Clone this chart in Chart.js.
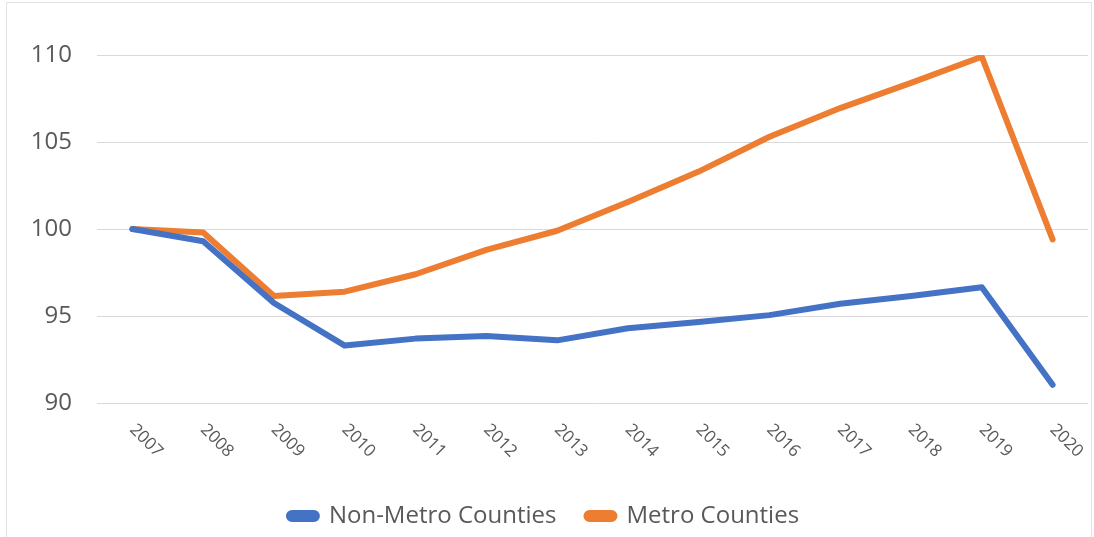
<!DOCTYPE html>
<html lang="en">
  <head>
    <meta charset="UTF-8" />
    <title>Metro vs Non-Metro Counties</title>
    <style>
      body { margin: 0; background: #fff; }
      #wrap { position: absolute; left: 0; top: 0; width: 1094px; height: 537px; }
      #frame { position: absolute; left: 6px; top: 2px; width: 1086px; height: 540px; border: 1px solid #e3e3e3; box-sizing: border-box; }
    </style>
  </head>
  <body>
    <div id="frame"></div>
    <div id="wrap"><canvas id="myChart"></canvas></div>
  </body>
  <script src="https://cdn.jsdelivr.net/npm/chart.js"></script>
  <script>
    var years = ["2007", "2008", "2009", "2010", "2011", "2012", "2013",
                 "2014", "2015", "2016", "2017", "2018", "2019", "2020"];
    var nonMetro = [100, 99.3, 95.75, 93.3, 93.7, 93.85, 93.6,
                    94.3, 94.65, 95.05, 95.7, 96.15, 96.65, 91.05];
    var metro = [100, 99.8, 96.15, 96.4, 97.4, 98.8, 99.9,
                 101.55, 103.3, 105.3, 106.95, 108.4, 109.9, 99.4];
    var yTicks = [90, 95, 100, 105, 110];

    // x labels are drawn by hand so they can lean down to the right
    const xLabels = {
      id: "xLabels",
      afterDraw(chart) {
        const ctx = chart.ctx;
        const x = chart.scales.x;
        ctx.save();
        ctx.font = '17px "Open Sans"';
        ctx.fillStyle = "#595959";
        ctx.textAlign = "left";
        ctx.textBaseline = "middle";
        years.forEach((label, i) => {
          ctx.save();
          ctx.translate(x.getPixelForTick(i), chart.chartArea.bottom + 24);
          ctx.rotate(Math.PI / 4);
          ctx.fillText(label, 0, 0);
          ctx.restore();
        });
        ctx.restore();
      },
    };

    const data = {
      labels: years,
      datasets: [
        {
          label: "Non-Metro Counties",
          data: nonMetro,
          borderColor: "#4472C4",
          backgroundColor: "#4472C4",
        },
        {
          label: "Metro Counties",
          data: metro,
          borderColor: "#ED7D31",
          backgroundColor: "#ED7D31",
        },
      ],
    };

    const config = {
      type: "line",
      data: data,
      options: {
        responsive: true,
        maintainAspectRatio: false,
        animation: false,
        layout: { padding: { top: 55, right: 6, bottom: -1, left: 0 } },
        elements: {
          line: { borderWidth: 6, tension: 0, borderCapStyle: "round", borderJoinStyle: "round" },
          point: { radius: 0 },
        },
        plugins: {
          tooltip: { enabled: false },
          legend: {
            position: "bottom",
            labels: {
              font: { family: "Open Sans", size: 24 },
              color: "#595959",
              boxWidth: 28,
              boxHeight: 6,
              useBorderRadius: true,
              borderRadius: 3,
              padding: 30,
            },
          },
        },
        scales: {
          x: {
            offset: true,
            grid: { display: false },
            border: { display: false },
            ticks: { display: false },
            afterFit(scale) { scale.height = 71; },
          },
          y: {
            min: 90,
            max: 110,
            afterBuildTicks(scale) { scale.ticks = yTicks.map((v) => ({ value: v })); },
            grid: { color: "#d9d9d9", drawTicks: false },
            border: { display: false },
            ticks: {
              padding: 25,
              color: "#595959",
              font: { family: "Open Sans", size: 24 },
            },
            afterFit(scale) { scale.width = 97; },
          },
        },
      },
      plugins: [xLabels],
    };

    var myChart = new Chart(document.getElementById("myChart"), config);
  </script>
</html>
